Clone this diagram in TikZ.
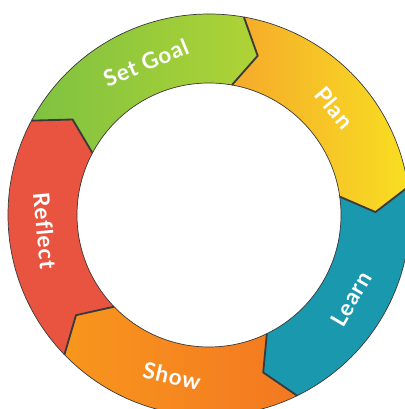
\documentclass[tikz,border=0pt]{standalone}
\usepackage{fontspec}
\setmainfont{Lato}
\newfontfamily\stepfont[LetterSpace=4, Ligatures=NoCommon]{Lato}
\usepackage{tikz}

\definecolor{goalL}{HTML}{7FC241}
\definecolor{goalR}{HTML}{AFD335}
\definecolor{planL}{HTML}{F5AA2B}
\definecolor{planR}{HTML}{F8DE22}
\definecolor{learn}{HTML}{1A98AE}
\definecolor{showL}{HTML}{F8961D}
\definecolor{showR}{HTML}{F37821}
\definecolor{refl}{HTML}{E8543F}
\definecolor{rimgray}{HTML}{3A3A3A}

\tikzset{
  rim/.style={draw=rimgray, line width=0.5pt},
  chevron/.style={draw=rimgray, line width=1.3pt, line join=miter},
  steplabel/.style={text=white, inner sep=0pt, font=\stepfont\fontsize{16}{16}\selectfont\bfseries}
}

\begin{document}
\begin{tikzpicture}[scale=0.025]
% Frame
\useasboundingbox (-209,-194) rectangle (195,215);

% Segments (start angle / end angle / colours)
\foreach \a/\b/\cl/\cr in {152/80/goalL/goalR, 80/8/planL/planR, 8/-64/learn/learn, -64/-136/showL/showR, -136/-208/refl/refl} {
    \shade[left color=\cl, right color=\cr] (\a:201) arc[start angle=\a, end angle=\b, radius=201]
        -- (\b-7:166.5) -- (\b:132) arc[start angle=\b, end angle=\a, radius=132]
        -- (\a-7:166.5) -- cycle;
}

% Rims
\draw[rim] (0,0) circle[radius=201];
\draw[rim] (0,0) circle[radius=132];

% Chevrons
\foreach \b in {152, 80, 8, -64, -136} {
    \draw[chevron] (\b:201) -- (\b-7:166.5) -- (\b:132);
}

% Labels
\foreach \t/\ang/\rot/\nm in {Set Goal/112.5/22.5/goal, Plan/40.5/-49.5/plan, Learn/-30.5/59.5/learn, Show/-103/-13/show, Reflect/-174.5/-84.5/reflect} {
    \node[steplabel, rotate=\rot] (\nm) at (\ang:165) {\t};
}
\end{tikzpicture}
\end{document}
